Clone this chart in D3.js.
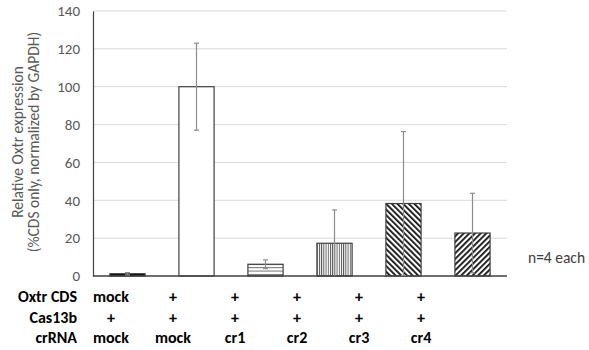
<!DOCTYPE html>
<html>
<head>
<meta charset="utf-8">
<script src="https://cdn.jsdelivr.net/npm/d3@7"></script>
<style>
  body { margin:0; background:#fff; }
  text { font-family: Carlito, Lato, "Open Sans", sans-serif; }
</style>
</head>
<body>
<script>
// data
var groups = ['g1','g2','g3','g4','g5','g6'];
var means  = [1.2, 100, 6.2, 17.3, 38.3, 22.7];
var errs   = [0.6, 23, 2.3, 17.6, 38, 21];
var fills  = ['solid','white','hlines','vlines','ddown','dup'];
var yTicks = [0,20,40,60,80,100,120,140];

var rowLabels = ['Oxtr CDS','Cas13b','crRNA'];
var rowOxtr   = ['mock','+','+','+','+','+'];
var rowCas    = ['+','+','+','+','+','+'];
var rowCr     = ['mock','mock','cr1','cr2','cr3','cr4'];

var W = 589, H = 350;
var svg = d3.select('body').append('svg').attr('width',W).attr('height',H);

var x = d3.scaleBand().domain(groups).range([93,507]).paddingInner(0.49).paddingOuter(0.245);
var y = d3.scaleLinear().domain([0,140]).range([276,11]);

// patterns
var defs = svg.append('defs');
function pat(id, w, h, draw, rot){
  var p = defs.append('pattern').attr('id',id).attr('patternUnits','userSpaceOnUse')
    .attr('width',w).attr('height',h);
  if (rot) p.attr('patternTransform','rotate('+rot+')');
  p.append('rect').attr('width',w).attr('height',h).attr('fill','#fff');
  draw(p);
}
pat('hlines',4,3.3,function(p){
  p.append('line').attr('x1',0).attr('x2',4).attr('y1',0.5).attr('y2',0.5).attr('stroke','#333').attr('stroke-width',0.8);
});
pat('vlines',2.2,4,function(p){
  p.append('line').attr('x1',0.5).attr('x2',0.5).attr('y1',0).attr('y2',4).attr('stroke','#333').attr('stroke-width',0.8);
});
pat('ddown',4,4,function(p){
  p.append('rect').attr('x',0).attr('y',0).attr('width',1.8).attr('height',4).attr('fill','#111');
},-45);
pat('dup',4,4,function(p){
  p.append('rect').attr('x',0).attr('y',0).attr('width',1.8).attr('height',4).attr('fill','#111');
},45);

// gridlines
svg.append('g').selectAll('line').data(yTicks.slice(1)).enter().append('line')
  .attr('x1',93).attr('x2',507)
  .attr('y1',function(d){return y(d);}).attr('y2',function(d){return y(d);})
  .attr('stroke','#d9d9d9').attr('stroke-width',1);

// y axis
var yAxis = svg.append('g').attr('transform','translate(93,0)')
  .call(d3.axisLeft(y).tickValues(yTicks).tickSize(0).tickPadding(13));
yAxis.select('.domain').attr('stroke','#404040').attr('stroke-width',1.2);
yAxis.selectAll('text').attr('fill','#595959').style('font-size','15px')
  .style('font-family','Carlito, Lato, "Open Sans", sans-serif');

// bars
svg.append('g').selectAll('rect').data(groups).enter().append('rect')
  .attr('x',function(d){return x(d);})
  .attr('y',function(d,i){return y(means[i]);})
  .attr('width',x.bandwidth())
  .attr('height',function(d,i){return y(0)-y(means[i]);})
  .attr('fill',function(d,i){
    if (fills[i]=='solid') return '#000';
    if (fills[i]=='white') return '#fff';
    return 'url(#'+fills[i]+')';
  })
  .attr('stroke','#404040').attr('stroke-width',1.2);

// x axis line
svg.append('line').attr('x1',93).attr('x2',507).attr('y1',y(0)).attr('y2',y(0))
  .attr('stroke','#404040').attr('stroke-width',1.5);

// error bars
var eb = svg.append('g').attr('stroke','#8c8c8c').attr('stroke-width',1.2);
groups.forEach(function(g,i){
  var cx = x(g)+x.bandwidth()/2;
  var hi = means[i]+errs[i], lo = Math.max(0, means[i]-errs[i]);
  eb.append('line').attr('x1',cx).attr('x2',cx).attr('y1',y(hi)).attr('y2',y(lo));
  eb.append('line').attr('x1',cx-2.5).attr('x2',cx+2.5).attr('y1',y(hi)).attr('y2',y(hi));
  if (means[i]-errs[i] > 0)
    eb.append('line').attr('x1',cx-2.5).attr('x2',cx+2.5).attr('y1',y(lo)).attr('y2',y(lo));
});

// y title
var yt = svg.append('text').attr('transform','translate(23,142) rotate(-90)')
  .attr('text-anchor','middle').attr('fill','#595959').style('font-size','15.5px');
yt.append('tspan').attr('x',0).attr('dy',0).text('Relative Oxtr expression');
yt.append('tspan').attr('x',0).attr('dy',16).text('(%CDS only, normalized by GAPDH)');

// n label
svg.append('text').attr('x',528).attr('y',263).attr('fill','#404040')
  .style('font-size','15.5px').text('n=4 each');

// condition table
var col = d3.scalePoint().domain(groups).range([111,421]);
var rows = [rowOxtr, rowCas, rowCr];
var rowY = d3.scalePoint().domain(rowLabels).range([302,343]);
rows.forEach(function(r,k){
  svg.append('text').attr('x',77).attr('y',rowY(rowLabels[k])).attr('text-anchor','end')
    .attr('font-weight','bold').style('font-size','16px').attr('fill','#000').text(rowLabels[k]);
  svg.append('g').selectAll('text').data(r).enter().append('text')
    .attr('x',function(d,i){return col(groups[i]);})
    .attr('y',rowY(rowLabels[k]))
    .attr('text-anchor','middle').attr('font-weight','bold').style('font-size','16px')
    .attr('fill','#000').text(function(d){return d;});
});
</script>
</body>
</html>
